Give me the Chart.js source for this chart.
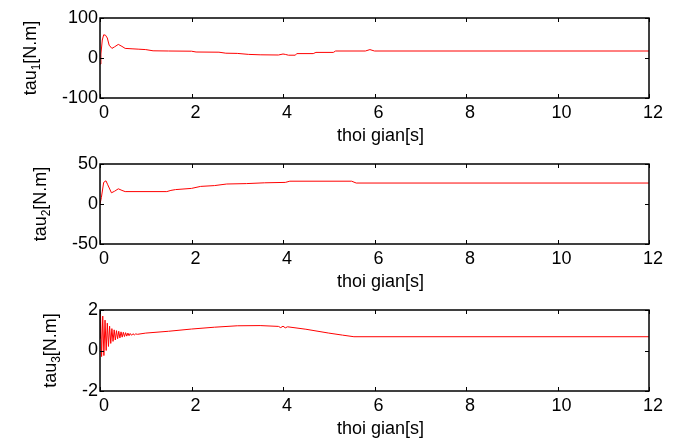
<!DOCTYPE html>
<html>
<head>
<meta charset="utf-8">
<script src="https://cdn.jsdelivr.net/npm/chart.js@4/dist/chart.umd.min.js"></script>
<style>
  body { margin: 0; background: #fff; }
  .panel { position: absolute; left: 0; width: 685px; }
</style>
</head>
<body>
<div class="panel" style="top:0px"><canvas id="tau1" width="685" height="146"></canvas></div>
<div class="panel" style="top:146px"><canvas id="tau2" width="685" height="146"></canvas></div>
<div class="panel" style="top:292px"><canvas id="tau3" width="685" height="147"></canvas></div>
<script>
// thoi gian [s] va mo-men tung khop
const tau1Time = [0, 0.02, 0.05, 0.08, 0.12, 0.16, 0.2, 0.26, 0.32, 0.4, 0.48, 0.55, 0.7, 0.85, 1.0, 1.16, 1.5, 2.0, 2.1, 2.6, 2.75, 3.0, 3.25, 3.5, 3.9, 4.0, 4.05, 4.12, 4.27, 4.3, 4.66, 4.72, 5.1, 5.15, 5.8, 5.9, 6.0, 12];
const tau1Values = [-15, 10, 45, 58, 57, 50, 32, 24, 28, 34, 29, 24, 23, 22, 21, 18, 17.5, 17, 15, 14.5, 12, 11.5, 9, 8, 7.5, 10, 9, 7, 7, 11, 11, 14, 14, 17.5, 17.5, 21, 17.5, 17.5];

const tau2Time = [0, 0.03, 0.08, 0.13, 0.17, 0.25, 0.32, 0.4, 0.48, 0.55, 1.46, 1.55, 1.65, 2.0, 2.2, 2.5, 2.77, 3.2, 3.6, 4.05, 4.15, 5.5, 5.6, 12];
const tau2Values = [0, 8, 27, 29, 24, 14, 16, 19, 17, 15.5, 15.5, 17, 18, 19.5, 22, 23, 25, 25.5, 26.5, 27, 28.5, 28.5, 26.2, 26.2];

const tau3Time = [0, 0.01, 0.035, 0.06, 0.085, 0.11, 0.135, 0.16, 0.185, 0.21, 0.235, 0.26, 0.285, 0.31, 0.335, 0.36, 0.385, 0.41, 0.435, 0.46, 0.485, 0.51, 0.535, 0.56, 0.585, 0.61, 0.635, 0.66, 0.69, 0.72, 0.75, 0.78, 0.82, 1.0, 1.5, 2.0, 2.5, 3.0, 3.5, 3.9, 3.95, 4.0, 4.05, 4.1, 4.5, 5.0, 5.3, 5.55, 12];
const tau3Values = [0.6, 1.85, -0.3, 1.7, -0.25, 1.5, 0.0, 1.35, 0.2, 1.2, 0.35, 1.08, 0.45, 1.02, 0.52, 0.98, 0.58, 0.95, 0.62, 0.92, 0.66, 0.9, 0.69, 0.88, 0.71, 0.86, 0.73, 0.84, 0.75, 0.83, 0.77, 0.82, 0.8, 0.86, 0.95, 1.06, 1.15, 1.22, 1.23, 1.19, 1.13, 1.2, 1.12, 1.17, 1.05, 0.86, 0.76, 0.68, 0.68];

const xTitle = "thoi gian[s]";
const FONT = "Liberation Sans, Arial, sans-serif";

// khung hop + vach chia huong vao trong (kieu MATLAB)
const boxPlugin = {
  id: "box",
  afterDraw(chart, args, opts) {
    const { ctx, chartArea: a, scales } = chart;
    ctx.save();
    ctx.strokeStyle = "#000";
    ctx.lineWidth = 1.5;
    ctx.strokeRect(a.left, a.top, a.right - a.left, a.bottom - a.top);
    ctx.lineWidth = 1;
    const tl = 4;
    ctx.beginPath();
    scales.x.ticks.forEach(t => {
      const px = Math.round(scales.x.getPixelForValue(t.value)) + 0.5;
      ctx.moveTo(px, a.bottom); ctx.lineTo(px, a.bottom - tl);
      ctx.moveTo(px, a.top); ctx.lineTo(px, a.top + tl);
    });
    scales.y.ticks.forEach(t => {
      const py = Math.round(scales.y.getPixelForValue(t.value)) + 0.5;
      ctx.moveTo(a.left, py); ctx.lineTo(a.left + tl, py);
      ctx.moveTo(a.right, py); ctx.lineTo(a.right - tl, py);
    });
    ctx.stroke();

    // nhan truc x
    ctx.fillStyle = "#000";
    ctx.font = "18px " + FONT;
    ctx.textAlign = "center";
    ctx.textBaseline = "alphabetic";
    ctx.fillText(xTitle, (a.left + a.right) / 2 + 6, a.bottom + 43);

    // nhan truc y voi chi so duoi
    let widest = 0;
    scales.y.ticks.forEach(t => {
      widest = Math.max(widest, ctx.measureText(t.label).width);
    });
    const baseX = a.left - 2 - widest - 26;
    const cy = (a.top + a.bottom) / 2;
    const parts = [["tau", 18, 0], [opts.sub, 12, 4], ["[N.m]", 18, 0]];
    let total = 0;
    parts.forEach(p => { ctx.font = p[1] + "px " + FONT; total += ctx.measureText(p[0]).width; });
    ctx.translate(baseX, cy);
    ctx.rotate(-Math.PI / 2);
    ctx.textAlign = "left";
    let x = -total / 2;
    parts.forEach(p => {
      ctx.font = p[1] + "px " + FONT;
      ctx.fillText(p[0], x, p[2]);
      x += ctx.measureText(p[0]).width;
    });
    ctx.restore();
  }
};

function makeChart(id, time, values, yMax, step, sub) {
  const points = time.map((t, i) => ({ x: t, y: values[i] }));
  return new Chart(document.getElementById(id), {
    type: "line",
    data: {
      datasets: [{
        data: points,
        borderColor: "#ff0000",
        borderWidth: 1,
        pointRadius: 0,
        tension: 0,
        fill: false
      }]
    },
    options: {
      responsive: false,
      animation: false,
      layout: { padding: { top: 18, right: 36, left: 0, bottom: 0 } },
      plugins: {
        legend: { display: false },
        tooltip: { enabled: false },
        box: { sub: sub }
      },
      scales: {
        x: {
          type: "linear",
          min: 0,
          max: 12,
          ticks: { stepSize: 2, color: "#000", font: { family: FONT, size: 18 }, padding: 4, labelOffset: 4, maxRotation: 0 },
          grid: { display: false, drawTicks: false },
          border: { display: false },
          afterFit: s => { s.height = 48; }
        },
        y: {
          min: -yMax,
          max: yMax,
          ticks: { stepSize: step, color: "#000", font: { family: FONT, size: 18 }, padding: 2 },
          grid: { display: false, drawTicks: false },
          border: { display: false },
          afterFit: s => { s.width = 100; }
        }
      }
    },
    plugins: [boxPlugin]
  });
}

makeChart("tau1", tau1Time, tau1Values, 100, 100, "1");
makeChart("tau2", tau2Time, tau2Values, 50, 50, "2");
makeChart("tau3", tau3Time, tau3Values, 2, 2, "3");
</script>
</body>
</html>
